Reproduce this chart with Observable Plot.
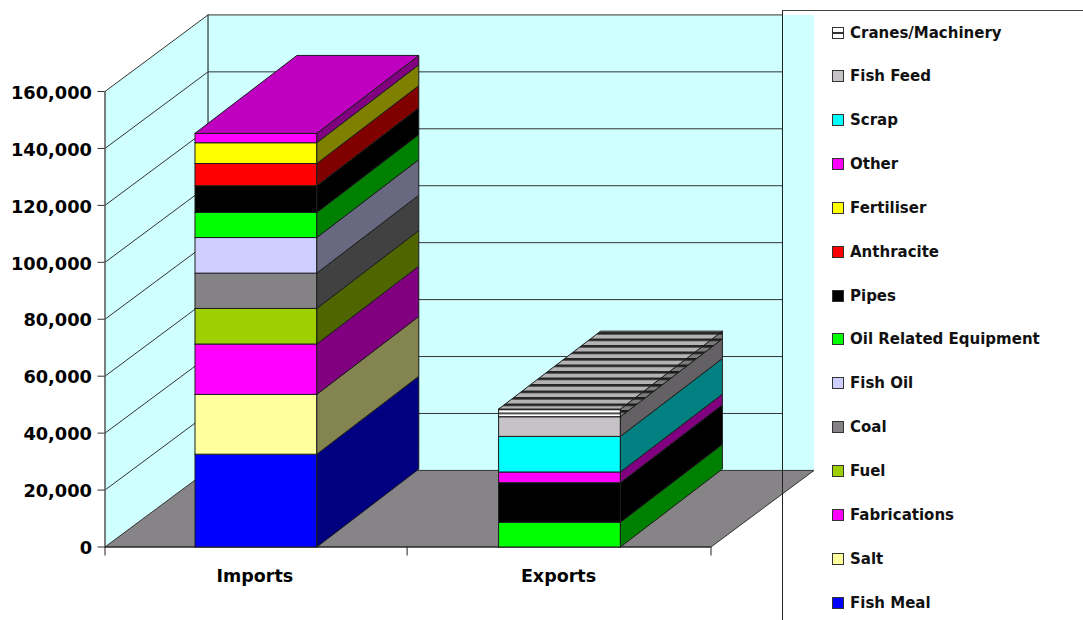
<!DOCTYPE html>
<html>
<head>
<meta charset="utf-8">
<script src="https://cdn.jsdelivr.net/npm/d3@7"></script>
<script src="https://cdn.jsdelivr.net/npm/@observablehq/plot@0.6"></script>
<style>
  html, body { margin: 0; padding: 0; background: #fff; overflow: hidden; }
  #chart { position: relative; width: 1083px; height: 620px; }
  #chart svg { position: absolute; left: 0; top: 0; display: block; }
  #legend { position: absolute; left: 782px; top: 10px; width: 301px; height: 610px;
            border-left: 1.5px solid #222; border-top: 1.5px solid #444; box-sizing: border-box; }
  .row { position: absolute; left: 49px; display: flex; align-items: center; height: 20px;
         font: bold 15px "DejaVu Sans", sans-serif; color: #111; white-space: nowrap; }
  .swatch { width: 10px; height: 10px; margin-right: 6px; border: 1.5px solid #333; }
</style>
</head>
<body>
<div id="chart"></div>
<script>
// Tonnage handled, by cargo type, stacked from the floor upwards.
const categories = ["Imports", "Exports"];
const series = ["Fish Meal", "Salt", "Fabrications", "Fuel", "Coal", "Fish Oil",
  "Oil Related Equipment", "Pipes", "Anthracite", "Fertiliser", "Other", "Scrap",
  "Fish Feed", "Cranes/Machinery"];
const importValues = [32600, 21000, 17700, 12500, 12400, 12500, 8800, 9400, 7800, 7300, 3300, 0, 0, 0];
const exportValues = [0, 0, 0, 0, 0, 0, 8700, 13900, 0, 0, 3750, 12500, 6900, 2700];
const yTicks = [0, 20000, 40000, 60000, 80000, 100000, 120000, 140000, 160000];

// Front and shaded side colours of each cargo type.
const frontColors = ["#0000ff", "#ffff9e", "#ff00ff", "#9ecf00", "#848284", "#cfcfff",
  "#00ff00", "#000000", "#ff0000", "#ffff00", "#ff00ff", "#00ffff", "#c6c3c6", "url(#cranesFront)"];
const sideColors = ["#000080", "#848450", "#800080", "#4f6500", "#424142", "#686880",
  "#008000", "#000000", "#800000", "#808000", "#800080", "#008080", "#636163", "url(#cranesSide)"];
const topColors = {Imports: "#c000c0", Exports: "url(#cranesTop)"};

// Oblique projection: one unit of depth moves this far along each scale.
const depthX = 0.34;
const depthY = 26900;
const barDepthX = 0.3366;
const barDepthY = 27370;
const barWidth = 0.402;
const barCentres = [0.498, 1.5];
const wallEnd = 2.34;    // right end of the back wall, in category units
const gridEnd = 2.234;   // gridlines stop at the legend's edge

const at = (x, value, depth = 0) => ({x: x + depth * depthX, y: value + depth * depthY});
const barAt = (x, value, depth = 0) => ({x: x + depth * barDepthX, y: value + depth * barDepthY});
const polygon = (id, corners, fill) =>
  [...corners, corners[0]].map((c) => ({...c, id, fill}));

// Walls, floor and the gridlines running across them.
const walls = [
  ...polygon("left", [at(0, 0), at(0, 0, 1), at(0, 160000, 1), at(0, 160000)], "#cfffff"),
  ...polygon("back", [at(0, 0, 1), at(wallEnd - depthX, 0, 1), at(wallEnd - depthX, 160000, 1), at(0, 160000, 1)], "#cfffff"),
];
const floor = polygon("floor", [at(0, 0), at(2, 0), at(2, 0, 1), at(0, 0, 1)], "#868486");
const gridLines = yTicks.slice(1).flatMap((v) => [
  {...at(0, v), id: v},
  {...at(0, v, 1), id: v},
  {...at(gridEnd - depthX, v, 1), id: v},
]);

// Each bar is a stack of boxes: front and side per segment, plus the top of the stack.
const faces = [];
categories.forEach((category, i) => {
  const values = i === 0 ? importValues : exportValues;
  const x0 = barCentres[i] - barWidth / 2;
  const x1 = barCentres[i] + barWidth / 2;
  let base = 0;
  values.forEach((value, s) => {
    if (!value) return;
    const top = base + value;
    faces.push(...polygon(`${category}-${s}-front`,
      [barAt(x0, base), barAt(x1, base), barAt(x1, top), barAt(x0, top)], frontColors[s]));
    faces.push(...polygon(`${category}-${s}-side`,
      [barAt(x1, base), barAt(x1, base, 1), barAt(x1, top, 1), barAt(x1, top)], sideColors[s]));
    base = top;
  });
  faces.push(...polygon(`${category}-top`,
    [barAt(x0, base), barAt(x1, base), barAt(x1, base, 1), barAt(x0, base, 1)], topColors[category]));
});
const plainFaces = faces.filter((d) => !d.fill.startsWith("url"));
const stripedFaces = (name) => faces.filter((d) => d.fill === `url(#${name})`);

const labelFont = {fontFamily: "DejaVu Sans, sans-serif", fontWeight: "bold", fill: "#000"};
const thousands = d3.format(",");

const plot = Plot.plot({
  width: 1083,
  height: 620,
  marginLeft: 104.5,
  marginRight: 372.5,
  marginTop: 91,
  marginBottom: 73.5,
  style: {background: "transparent", overflow: "visible"},
  x: {domain: [0, 2]},
  y: {domain: [0, 160000]},
  color: {type: "identity"},
  marks: [
    Plot.line(walls, {x: "x", y: "y", z: "id", fill: "fill", stroke: "none"}),
    Plot.line(floor, {x: "x", y: "y", z: "id", fill: "fill", stroke: "#333", strokeWidth: 1}),
    Plot.line(gridLines, {x: "x", y: "y", z: "id", stroke: "#333", strokeWidth: 1}),
    Plot.line([at(0, 0, 1), at(0, 160000, 1)], {x: "x", y: "y", stroke: "#333", strokeWidth: 1.2}),
    Plot.ruleX([0], {y1: 0, y2: 160000, stroke: "#555", strokeWidth: 1.5}),
    Plot.ruleY([0], {x1: 0, x2: 2, stroke: "#222", strokeWidth: 1.2}),
    Plot.axisY({ticks: yTicks, tickFormat: () => "", tickSize: 7, stroke: "#333", label: null}),
    Plot.text(yTicks, {x: 0, y: (d) => d, text: (d) => thousands(d), textAnchor: "end", dx: -13, dy: 1.5,
      fontSize: 17.8, ...labelFont}),
    Plot.axisX({ticks: [0, 0.997, 2], tickFormat: () => "", tickSize: 9, stroke: "#222", label: null}),
    Plot.text(categories, {x: (d, i) => barCentres[i], y: 0, text: (d) => d, dy: 29, dx: -1, fontSize: 17.5, ...labelFont}),
    Plot.line(plainFaces, {x: "x", y: "y", z: "id", fill: "fill", stroke: "#1c1c1c", strokeWidth: 1}),
    Plot.line(stripedFaces("cranesFront"), {x: "x", y: "y", z: "id", fill: "url(#cranesFront)", stroke: "#1c1c1c", strokeWidth: 1}),
    Plot.line(stripedFaces("cranesSide"), {x: "x", y: "y", z: "id", fill: "url(#cranesSide)", stroke: "#1c1c1c", strokeWidth: 1}),
    Plot.line(stripedFaces("cranesTop"), {x: "x", y: "y", z: "id", fill: "url(#cranesTop)", stroke: "#1c1c1c", strokeWidth: 1}),
  ],
});

// Horizontal hatching used for the Cranes/Machinery faces.
const defs = d3.select(plot).insert("defs", ":first-child");
const hatch = (id, period, base, dark) => {
  const p = defs.append("pattern").attr("id", id).attr("patternUnits", "userSpaceOnUse")
    .attr("width", 10).attr("height", period);
  p.append("rect").attr("width", 10).attr("height", period).attr("fill", base);
  p.append("rect").attr("width", 10).attr("height", period * 0.4).attr("fill", dark);
};
hatch("cranesTop", 6.5, "#b4b2b4", "#262626");
hatch("cranesSide", 6.5, "#7c7c7c", "#1c1c1c");
hatch("cranesFront", 4, "#ffffff", "#222222");

const chart = document.getElementById("chart");
chart.appendChild(plot);

// Legend, listed from the top of the stack down.
const legend = d3.select(chart).append("div").attr("id", "legend");
const legendSwatch = {"Cranes/Machinery": "linear-gradient(#fff 0 4px, #333 4px 6px, #fff 6px 10px)"};
series.slice().reverse().forEach((name, i) => {
  const s = series.indexOf(name);
  const row = legend.append("div").attr("class", "row").style("top", `${11.5 + i * 43.85}px`);
  row.append("div").attr("class", "swatch")
    .style("background", legendSwatch[name] || frontColors[s]);
  row.append("span").text(name);
});
</script>
</body>
</html>
